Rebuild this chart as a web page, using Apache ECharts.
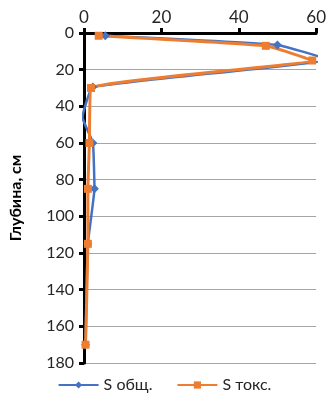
<!DOCTYPE html>
<html><head><meta charset="utf-8">
<script src="https://cdn.jsdelivr.net/npm/echarts@6/dist/echarts.min.js"></script>
<style>html,body{margin:0;padding:0;background:#fff}#c{width:329px;height:406px}</style>
</head><body><div id="c"></div>
<script>
const depthTotal = [1.5, 6.5, 14.5, 29.5, 46, 60, 85, 115, 170];
const sTotal = [5.5, 50, 63, 2.3, -0.4, 2.3, 2.7, 1, 0.4];
const depthToxic = [1.5, 7, 15, 30, 60, 85, 115, 170];
const sToxic = [3.8, 47, 59, 1.8, 1.4, 1, 1, 0.4];
const xTicks = [0, 20, 40, 60];
const yTicks = [0, 20, 40, 60, 80, 100, 120, 140, 160, 180];
const seriesNames = ['S общ.', 'S токс.'];

const font = 'Lato, "Open Sans", sans-serif';
const chart = echarts.init(document.getElementById('c'));
chart.setOption({
  animation: false,
  grid: {left: 81, right: 10, top: 33, bottom: 43},
  legend: {
    bottom: 8, left: 'center', itemWidth: 40, itemHeight: 9, itemGap: 24,
    textStyle: {fontFamily: font, fontSize: 16, color: '#262626'},
    data: seriesNames
  },
  xAxis: {
    type: 'value', position: 'top', min: xTicks[0], max: xTicks[xTicks.length-1], interval: 20,
    axisLine: {show: true, onZero: false, lineStyle: {color: '#000', width: 3}},
    axisTick: {show: true, length: 5, lineStyle: {color: '#000', width: 3}},
    axisLabel: {fontFamily: font, fontSize: 17, color: '#262626', margin: 7},
    splitLine: {show: false}
  },
  yAxis: {
    type: 'value', inverse: true, min: yTicks[0], max: yTicks[yTicks.length-1], interval: 20,
    name: 'Глубина, см', nameLocation: 'middle', nameGap: 60, nameRotate: 90,
    nameTextStyle: {fontFamily: font, fontSize: 16, fontWeight: 'bold', color: '#000'},
    axisLine: {show: true, onZero: false, lineStyle: {color: '#000', width: 3}},
    axisTick: {show: true, length: 5, lineStyle: {color: '#000', width: 3}},
    axisLabel: {fontFamily: font, fontSize: 16, color: '#262626', margin: 10},
    splitLine: {show: true, lineStyle: {color: '#a6a6a6', width: 1}}
  },
  series: [
    {name: seriesNames[0], type: 'line', symbol: 'diamond', symbolSize: 9, smooth: 0.1,
     data: sTotal.map((v, i) => [v, depthTotal[i]]),
     lineStyle: {color: '#4472c4', width: 2.5}, itemStyle: {color: '#4472c4'}, clip: true},
    {name: seriesNames[1], type: 'line', symbol: 'rect', symbolSize: 8, smooth: 0.1,
     data: sToxic.map((v, i) => [v, depthToxic[i]]),
     lineStyle: {color: '#ed7d31', width: 3}, itemStyle: {color: '#ed7d31'}, clip: true}
  ]
});
</script></body></html>
